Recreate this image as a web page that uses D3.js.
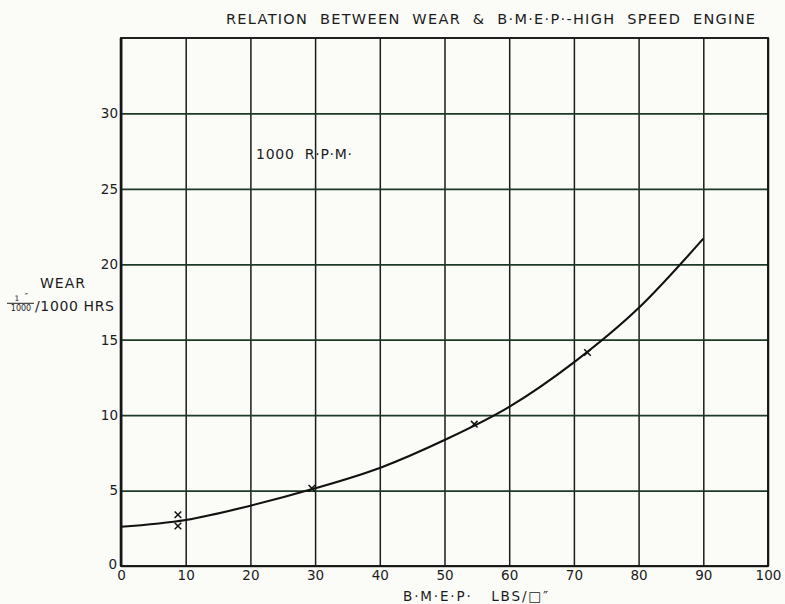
<!DOCTYPE html>
<html>
<head>
<meta charset="utf-8">
<script src="https://cdn.jsdelivr.net/npm/d3@7"></script>
<style>
  body { margin: 0; background: #fbfbf8; }
  svg { display: block; }
  text { font-family: "DejaVu Sans", sans-serif; fill: #1c1c1c; }
  .pre { white-space: pre; }
</style>
</head>
<body>
<script>
// wear vs bmep
const curveBmep = [0, 10, 20, 30, 40, 50, 60, 70, 80, 90]
const curveWear = [2.6, 3.05, 4.0, 5.15, 6.5, 8.35, 10.55, 13.5, 17.1, 21.7]
const pointBmep = [8.8, 8.8, 29.5, 54.6, 72.1]
const pointWear = [3.4, 2.65, 5.15, 9.4, 14.15]
const xTicks = [0, 10, 20, 30, 40, 50, 60, 70, 80, 90, 100]
const yTicks = [0, 5, 10, 15, 20, 25, 30]

const W = 785, H = 604
const m = {left: 121, right: 17, top: 38, bottom: 38}
const w = W - m.left - m.right
const h = H - m.top - m.bottom

const svg = d3.select("body").append("svg")
    .attr("width", W).attr("height", H)

const x = d3.scaleLinear().domain([0, 100]).range([0, w])
const y = d3.scaleLinear().domain([0, 35]).range([h, 0])

const g = svg.append("g").attr("transform", `translate(${m.left},${m.top})`)

// vertical grid + x labels
const gx = g.append("g")
    .attr("transform", `translate(0,${h})`)
    .call(d3.axisBottom(x).tickValues(xTicks).tickSize(-h).tickPadding(4).tickFormat(d3.format("d")))
gx.select(".domain").remove()
gx.selectAll("line").attr("stroke", "#1b1b1b").attr("stroke-width", 1.5)
gx.selectAll("text").attr("font-size", 13.5).attr("fill", "#1c1c1c")

// horizontal grid + y labels
const gy = g.append("g")
    .call(d3.axisLeft(y).tickValues(yTicks).tickSize(-w).tickPadding(3).tickFormat(d3.format("d")))
gy.select(".domain").remove()
gy.selectAll("line").attr("stroke", "#1d3a27").attr("stroke-width", 1.7)
gy.selectAll("text").attr("font-size", 13.5).attr("fill", "#1c1c1c")
    .filter(d => d === 0).attr("dy", "0.15em").attr("dx", -1)

// frame
g.append("rect")
    .attr("width", w).attr("height", h)
    .attr("fill", "none").attr("stroke", "#161616").attr("stroke-width", 1.9)
g.append("line")
    .attr("x1", 0).attr("x2", 0).attr("y1", 0).attr("y2", h)
    .attr("stroke", "#161616").attr("stroke-width", 2.6)

// curve
const pts = curveBmep.map((d, i) => [d, curveWear[i]])
g.append("path")
    .datum(pts)
    .attr("fill", "none").attr("stroke", "#111").attr("stroke-width", 2.1)
    .attr("d", d3.line().x(d => x(d[0])).y(d => y(d[1])).curve(d3.curveMonotoneX))

// observed points as crosses
const s = 3.3
g.selectAll(".pt")
    .data(pointBmep.map((d, i) => [d, pointWear[i]]))
    .enter().append("path")
    .attr("class", "pt")
    .attr("d", d => {
        const px = x(d[0]), py = y(d[1])
        return `M${px - s},${py - s}L${px + s},${py + s}M${px - s},${py + s}L${px + s},${py - s}`
    })
    .attr("stroke", "#111").attr("stroke-width", 1.5)

// title
svg.append("text").attr("class", "pre")
    .attr("x", 226).attr("y", 24)
    .attr("font-size", 14.5)
    .attr("textLength", 529).attr("lengthAdjust", "spacing")
    .text("RELATION  BETWEEN  WEAR  &  B·M·E·P·-HIGH  SPEED  ENGINE")

svg.append("text").attr("class", "pre")
    .attr("x", 256).attr("y", 159)
    .attr("font-size", 14)
    .attr("textLength", 96).attr("lengthAdjust", "spacing")
    .text("1000  R·P·M·")

// y axis title
svg.append("text")
    .attr("x", 40).attr("y", 288)
    .attr("font-size", 14).attr("textLength", 45).attr("lengthAdjust", "spacing")
    .text("WEAR")
svg.append("text")
    .attr("x", 17).attr("y", 301).attr("font-size", 7.5).attr("text-anchor", "middle")
    .text("1")
svg.append("text")
    .attr("x", 25).attr("y", 300).attr("font-size", 8)
    .text("″")
svg.append("line")
    .attr("x1", 7).attr("x2", 34).attr("y1", 303.3).attr("y2", 303.3)
    .attr("stroke", "#222").attr("stroke-width", 1)
svg.append("text")
    .attr("x", 21).attr("y", 311).attr("font-size", 8).attr("text-anchor", "middle")
    .text("1000")
svg.append("text")
    .attr("x", 35).attr("y", 311)
    .attr("font-size", 14).attr("textLength", 79).attr("lengthAdjust", "spacing")
    .text("/1000 HRS")

// x axis title
svg.append("text").attr("class", "pre")
    .attr("x", 403).attr("y", 601)
    .attr("font-size", 13.5).attr("textLength", 145).attr("lengthAdjust", "spacing")
    .text("B·M·E·P·   LBS/□″")
</script>
</body>
</html>
